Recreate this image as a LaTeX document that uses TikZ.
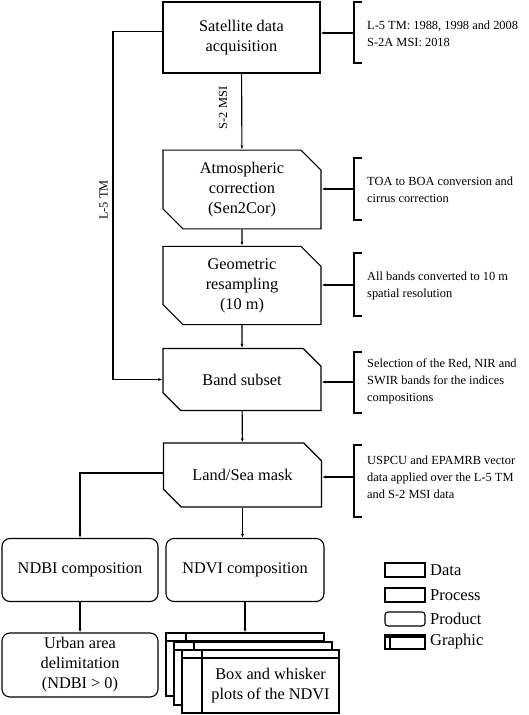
\documentclass[tikz,border=0pt]{standalone}
\usepackage{fontspec}
\setmainfont{Liberation Serif}
\usetikzlibrary{shapes.misc,arrows.meta}

\begin{document}
\begin{tikzpicture}[x=1pt,y=-1pt]

    % Layout in pixels of the 529 x 715 page, y grows downwards
    \useasboundingbox (0,0) rectangle (529,715);

    % Styles: data, process, product and graphic boxes
    \tikzset{
        base/.style={draw, line width=1.1pt, fill=white, align=center,
            inner sep=2pt, font=\fontsize{16.3}{20}\selectfont},
        databox/.style={base, rectangle, minimum width=157, minimum height=71},
        procbox/.style={base, chamfered rectangle,
            chamfered rectangle corners={north east,south west},
            chamfered rectangle xsep=10pt, chamfered rectangle ysep=10pt,
            minimum width=158, minimum height=62},
        prodbox/.style={base, rectangle, rounded corners=8pt,
            minimum width=156, minimum height=63},
        graphbox/.style 2 args={draw, line width=1.1pt, fill=white,
            path picture={
                \draw[line width=1.1pt]
                    ([yshift=-#1]path picture bounding box.north west) --
                    ([yshift=-#1]path picture bounding box.north east);
                \draw[line width=1.1pt]
                    ([xshift=#2]path picture bounding box.north west) --
                    ([xshift=#2]path picture bounding box.south west);
            }},
        note/.style={anchor=west, align=left, inner sep=0pt,
            font=\fontsize{12.4}{17}\selectfont},
        lbl/.style={rotate=90, inner sep=0pt, font=\fontsize{12.4}{15}\selectfont},
        legtxt/.style={anchor=west, inner sep=0pt, font=\fontsize{16.5}{18}\selectfont},
        brk/.style={line width=1.1pt},
        arr/.style={line width=1.1pt, -{Latex[length=4pt,width=3pt]}}
    }

    % Bracket: x of the spine and of the tick ends
    \def\bx{354}
    \def\bt{362}

    % --- main column (x = 242) ---
    \node[databox] (sat)  at (241.5,37.5) {Satellite data\\acquisition};
    \node[procbox] (atm)  at (242,189.5)  {Atmospheric\\correction\\(Sen2Cor)};
    \node[procbox] (geo)  at (242,285.5)  {Geometric\\resampling\\(10 m)};
    \node[procbox] (band) at (242,379.5)  {Band subset};
    \node[procbox, minimum height=64] (mask) at (242.5,475) {Land/Sea mask};

    % --- products ---
    \node[prodbox] (ndbi)  at (80,570)  {NDBI composition};
    \node[prodbox, minimum width=158] (ndvi) at (245,570) {NDVI composition};
    \node[prodbox, minimum height=64] (urban) at (80,665) {Urban area\\delimitation\\(NDBI > 0)};

    % --- graphic: three stacked sheets ---
    \node[graphbox={8pt}{20pt}, minimum width=158, minimum height=63] (plot1) at (245,664.5) {};
    \node[graphbox={8pt}{20pt}, minimum width=158, minimum height=63] (plot2) at (253,673.5) {};
    \node[graphbox={8pt}{20pt}, minimum width=157, minimum height=63] (plot3) at (260.5,681.5) {};
    \node[base, draw=none, fill=none] (plots) at (270.5,686) {Box and whisker\\plots of the NDVI};

    % --- connectors ---
    \draw[arr] (sat) -- (atm);
    \node[lbl] (s2) at (223,108) {S-2 MSI};
    \draw[arr] (atm) -- (geo);
    \draw[arr] (geo) -- (band);
    \draw[arr] (band) -- (mask);
    \coordinate (l5) at (113,200);
    \draw[arr] ([yshift=6pt]sat.west) -| (l5) |- (band.west);
    \node[lbl] (l5lbl) at (103.5,200) {L-5 TM};
    \draw[arr] ([yshift=2pt]mask.west) -| (ndbi);
    \draw[arr] (mask.south) -- (mask.south |- ndvi.north);
    \draw[arr] (ndbi) -- (urban);
    \draw[arr] (ndvi.south) -- (ndvi.south |- plot1.north);

    % --- brackets with notes ---
    \draw[brk] (\bt,2) -- (\bx,2) -- (\bx,63) -- (\bt,63);
    \coordinate (b1) at (\bx,33);
    \draw[arr] (b1) -- (b1 -| sat.east);
    \node[note] (n1) at (367,34) {L-5 TM: 1988, 1998 and 2008\\S-2A MSI: 2018};

    \draw[brk] (\bt,158) -- (\bx,158) -- (\bx,220) -- (\bt,220);
    \coordinate (b2) at (\bx,189);
    \draw[arr] (b2) -- (b2 -| atm.east);
    \node[note] (n2) at (367,190) {TOA to BOA conversion and\\cirrus correction};

    \draw[brk] (\bt,253) -- (\bx,253) -- (\bx,316) -- (\bt,316);
    \coordinate (b3) at (\bx,285);
    \draw[arr] (b3) -- (b3 -| geo.east);
    \node[note] (n3) at (367,286) {All bands converted to 10 m\\spatial resolution};

    \draw[brk] (\bt,352) -- (\bx,352) -- (\bx,413) -- (\bt,413);
    \coordinate (b4) at (\bx,382);
    \draw[arr] (b4) -- (b4 -| band.east);
    \node[note] (n4) at (367,381) {Selection of the Red, NIR and\\SWIR bands for the indices\\compositions};

    \draw[brk] (\bt,445) -- (\bx,445) -- (\bx,517) -- (\bt,517);
    \coordinate (b5) at (\bx,477);
    \draw[arr] (b5) -- (b5 -| mask.east);
    \node[note] (n5) at (367,477) {USPCU and EPAMRB vector\\data applied over the L-5 TM\\and S-2 MSI data};

    % --- legend (x = 385..425) ---
    \node[draw, line width=1.1pt, minimum width=40, minimum height=14, inner sep=0pt] (kdata) at (405,570) {};
    \node[draw, line width=1.1pt, chamfered rectangle,
        chamfered rectangle corners={north east,south west},
        chamfered rectangle xsep=3pt, chamfered rectangle ysep=3pt,
        minimum width=40, minimum height=14, inner sep=0pt] (kproc) at (405,595) {};
    \node[draw, line width=1.1pt, rounded corners=3pt, minimum width=40, minimum height=14, inner sep=0pt] (kprod) at (405,619) {};
    \node[graphbox={2pt}{5pt}, minimum width=40, minimum height=14, inner sep=0pt] (kgraph) at (405,642) {};
    \node[legtxt] at (430,570) {Data};
    \node[legtxt] at (430,595) {Process};
    \node[legtxt] at (430,619) {Product};
    \node[legtxt] at (430,642) {Graphic};

\end{tikzpicture}
\end{document}
